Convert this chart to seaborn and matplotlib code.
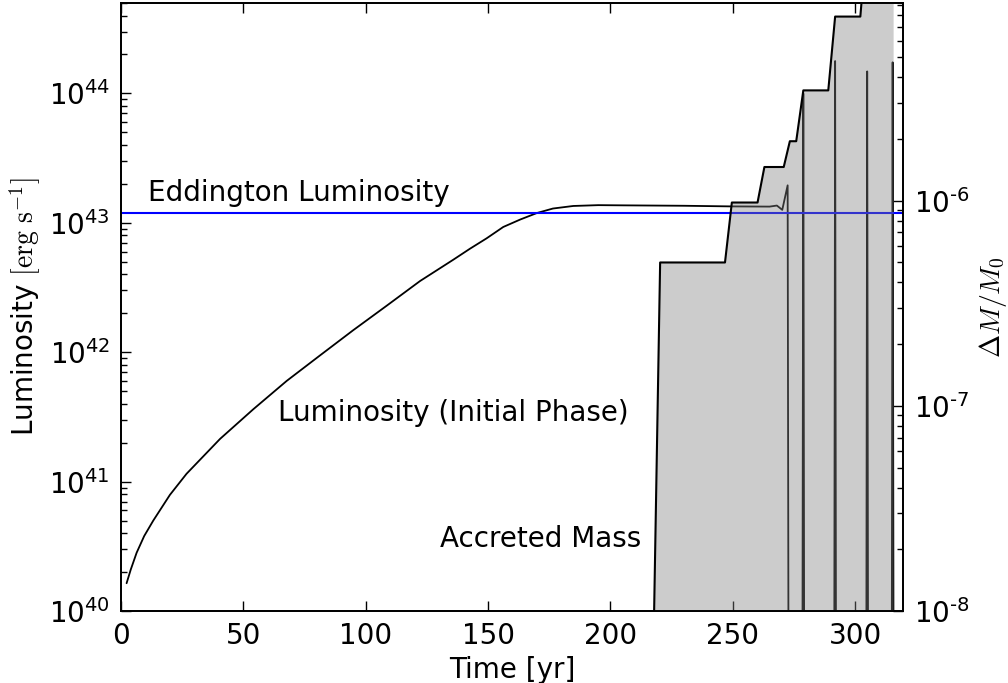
import numpy as np
import pandas as pd
import matplotlib
matplotlib.use("Agg")
import matplotlib.pyplot as plt
import seaborn as sns
from matplotlib.ticker import LogLocator, NullFormatter, FuncFormatter

# ---- data ----
lum_time = [2.3, 4.0, 6.4, 9.5, 13.2, 20.0, 26.8, 40.5, 54.1, 67.7, 81.3, 94.9,
            108.6, 122.2, 135.8, 142.6, 149.4, 156.2, 163.1, 169.9, 176.5, 184.8, 195.0,
            205.3, 230.0, 249.0, 265.0, 268.0, 270.2, 272.4, 272.8,
            278.4, 278.8, 279.2, 291.4, 291.8, 292.2, 304.5, 304.9, 305.3,
            314.9, 315.3, 315.7]
lum_value = [1.64e40, 2.09e40, 2.82e40, 3.8e40, 5.0e40, 7.9e40, 1.15e41, 2.14e41,
             3.63e41, 6.0e41, 9.44e41, 1.48e42, 2.29e42, 3.55e42, 5.19e42, 6.31e42,
             7.59e42, 9.29e42, 1.06e43, 1.19e43, 1.29e43, 1.35e43, 1.37e43,
             1.365e43, 1.355e43, 1.34e43, 1.335e43, 1.36e43, 1.26e43, 1.95e43, 1e39,
             1e39, 1.0e44, 1e39, 1e39, 1.78e44, 1e39, 1e39, 1.48e44, 1e39,
             1e39, 1.74e44, 1e39]

mass_time = [216.4, 220.3, 246.8, 249.6, 260.1, 262.9, 270.8, 273.3, 275.9,
             278.8, 289.0, 291.8, 302.1, 303.6, 315.7]
mass_value = [1e-9, 5.0e-7, 5.0e-7, 9.8e-7, 9.8e-7, 1.46e-6, 1.46e-6, 1.95e-6,
              1.95e-6, 3.45e-6, 3.45e-6, 7.9e-6, 7.9e-6, 1.3e-5, 1.3e-5]

eddington_lum = 1.2e43
time_ticks = [0, 50, 100, 150, 200, 250, 300]

sns.set_style("white")
plt.rcParams.update({
    "font.family": ["DejaVu Sans"],
    "mathtext.fontset": "cm",
    "font.size": 20,
    "axes.unicode_minus": False,
    "axes.linewidth": 1.3,
    "axes.edgecolor": "black",
    "text.color": "black",
    "axes.labelcolor": "black",
    "xtick.color": "black",
    "ytick.color": "black",
})

fig = plt.figure(figsize=(10.08, 6.83), dpi=100)
ax = fig.add_axes([0.120, 0.1054, 0.776, 0.8902])

df_lum = pd.DataFrame({"t": lum_time, "L": lum_value})
sns.lineplot(data=df_lum, x="t", y="L", ax=ax, color="black", lw=1.3,
             estimator=None, sort=False)
ax.axhline(eddington_lum, color="#0000ff", lw=1.5)
ax.set_yscale("log")
ax.set_ylim(1e40, 5e44)
ax.set_xlim(0, 319.6)
ax.set_xticks(time_ticks)
ax.set_xlabel("Time [yr]", fontsize=20)
ax.set_ylabel(r"Luminosity $[\mathrm{erg\ s^{-1}}]$", fontsize=20)
ax.yaxis.set_major_locator(LogLocator(base=10, numticks=20))
ax.yaxis.set_minor_locator(LogLocator(base=10, subs=np.arange(2, 10), numticks=20))
ax.yaxis.set_minor_formatter(NullFormatter())
ax.tick_params(axis="both", which="both", direction="in", labelsize=20,
               top=True, right=False, left=True, bottom=True)
ax.tick_params(axis="both", which="major", length=7, width=1, pad=8)
ax.tick_params(axis="both", which="minor", length=4, width=1)

ax.text(11, 1.47e43, "Eddington Luminosity", fontsize=20, va="baseline")
ax.text(64.3, 10**41.47, "Luminosity (Initial Phase)", fontsize=20, va="baseline")
ax.text(130.4, 10**40.497, "Accreted Mass", fontsize=20, va="baseline")

ax2 = ax.twinx()
ax2.fill_between(mass_time, mass_value, 1e-10, color="#808080", alpha=0.4, lw=0)
df_m = pd.DataFrame({"t": mass_time, "m": mass_value})
sns.lineplot(data=df_m, x="t", y="m", ax=ax2, color="black", lw=1.5,
             estimator=None, sort=False)
ax2.set_yscale("log")
ax2.set_ylim(1e-8, 9.2e-6)
ax2.set_xlim(0, 319.6)
ax2.set_ylabel(r"$\Delta M/M_0$", fontsize=20)
ax2.yaxis.set_label_coords(1.095, 0.5)
ax2.set_xlabel("")
ax2.yaxis.set_major_locator(LogLocator(base=10, numticks=20))
ax2.yaxis.set_major_formatter(FuncFormatter(
    lambda v, p: "$\\mathdefault{10^{\u2010%d}}$" % abs(int(round(np.log10(v))))))
ax2.yaxis.set_minor_locator(LogLocator(base=10, subs=np.arange(2, 10), numticks=20))
ax2.yaxis.set_minor_formatter(NullFormatter())
ax2.tick_params(axis="y", which="both", direction="in", labelsize=20,
                right=True, left=False)
ax2.tick_params(axis="y", which="major", length=7, width=1, pad=8)
ax2.tick_params(axis="y", which="minor", length=4, width=1)
for s in ax2.spines.values():
    s.set_linewidth(1.3)

fig.savefig("out.png", dpi=100)
